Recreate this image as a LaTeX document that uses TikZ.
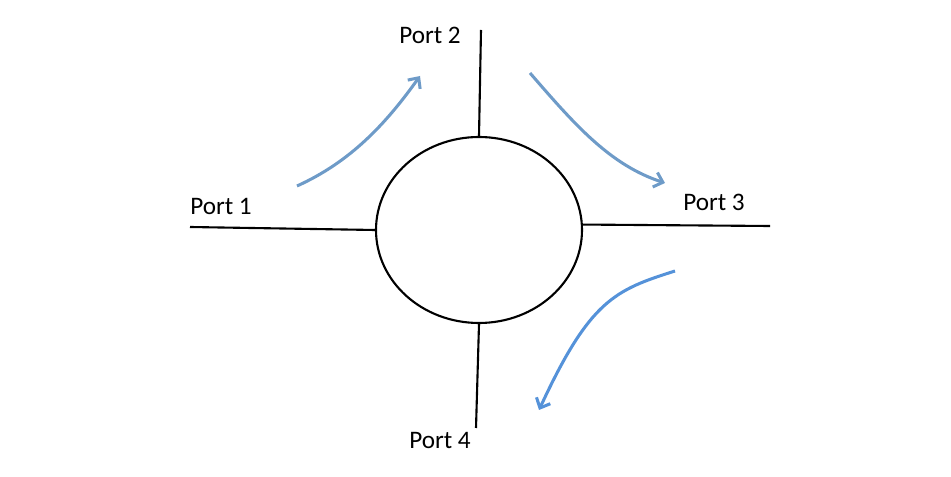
\documentclass[tikz,border=0pt]{standalone}
\usetikzlibrary{arrows.meta, positioning, shapes.geometric}
\usepackage{xcolor}
\usepackage{fontspec}
\setmainfont{Carlito}
\definecolor{flowA}{HTML}{6E9BC8}
\definecolor{flowB}{HTML}{5592D9}
\def\unitpx{0.3mm}

\begin{document}
\begin{tikzpicture}[x=\unitpx,y=-\unitpx,font=\fontsize{21.5}{26}\selectfont]
    \tikzstyle{junction}=[ellipse,draw=black,line width=1.8pt,inner sep=0pt,minimum width=206*\unitpx,minimum height=186*\unitpx]
    \tikzstyle{port line}=[draw=black,line width=1.8pt]
    \tikzstyle{port label}=[inner sep=0pt]
    \tikzstyle{flow}=[line width=2.6pt,-{Straight Barb[length=7pt,width=13pt,line width=2.6pt]}]

    \useasboundingbox (0,0) rectangle (951,477);

    % the junction
    \node[junction] (J) at (479,230) {};

    % the four port ends
    \coordinate (P-1) at (190,227);
    \coordinate (P-2) at (481,30);
    \coordinate (P-3) at (770,226);
    \coordinate (P-4) at (476,428);

    \draw[port line] (P-1) -- (J.west);
    \draw[port line] (P-2) -- (J.north);
    \draw[port line] (P-3) -- (J.3);
    \draw[port line] (P-4) -- (J.south);

    % port labels
    \node[port label] (L-1) at (221,206) {Port 1};
    \node[port label] (L-2) at (430,35) {Port 2};
    \node[port label] (L-3) at (714,202) {Port 3};
    \node[port label] (L-4) at (440,441) {Port 4};

    % circulating flow
    \coordinate (F-1s) at (297,186);
    \coordinate (F-1e) at (420,76);
    \coordinate (F-2s) at (530,73);
    \coordinate (F-2e) at (665,183);
    \coordinate (F-3s) at (675,271);
    \coordinate (F-3e) at (539,410);

    \draw[flow,flowA] (F-1s) .. controls (350,162) and (385,125) .. (F-1e);
    \draw[flow,flowA] (F-2s) .. controls (575,125) and (610,165) .. (F-2e);
    \draw[flow,flowB] (F-3s) .. controls (615,290) and (590,300) .. (F-3e);
\end{tikzpicture}
\end{document}
